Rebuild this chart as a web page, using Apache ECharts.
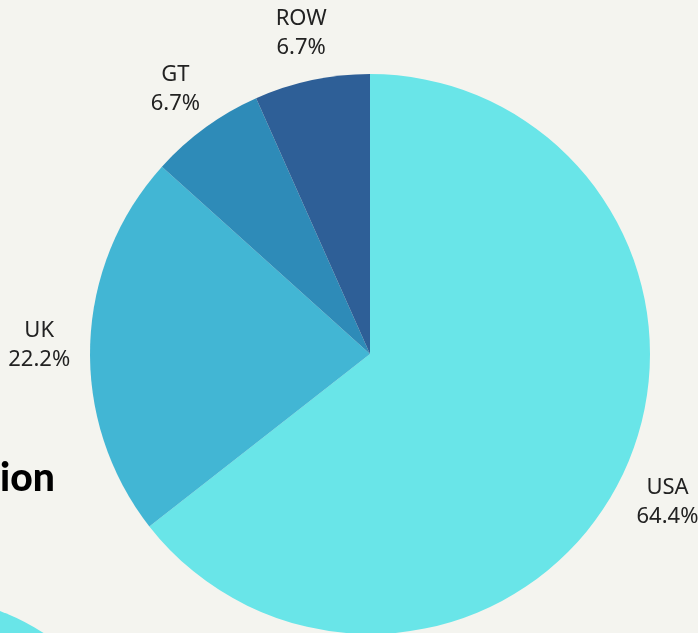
<!DOCTYPE html>
<html>
<head>
<meta charset="utf-8">
<script src="https://cdn.jsdelivr.net/npm/echarts@6/dist/echarts.min.js"></script>
<style>
  html, body { margin: 0; padding: 0; background: #f4f4ef; }
  #chart { width: 698px; height: 633px; }
</style>
</head>
<body>
<div id="chart"></div>
<script>
// market share by region
var regions = ['USA', 'UK', 'GT', 'ROW'];
var shares = [29, 10, 3, 3];
var colors = ['#69e5e8', '#42b6d4', '#2e8bb8', '#2e5f97'];

var pieData = regions.map(function (name, i) {
    return { name: name, value: shares[i], itemStyle: { color: colors[i] } };
});
var labelData = regions.map(function (name, i) {
    return { name: name, value: shares[i] };
});

var chart = echarts.init(document.getElementById('chart'));
chart.setOption({
    backgroundColor: '#f4f4ef',
    animation: false,
    graphic: [
        {
            type: 'circle',
            shape: { cx: -86, cy: 835, r: 240 },
            style: { fill: '#69e5e8' },
            silent: true
        },
        {
            type: 'text',
            x: 0,
            y: 478,
            style: {
                text: 'ion',
                fill: '#000',
                font: '900 39px Lato, "Open Sans", sans-serif',
                textAlign: 'left',
                textVerticalAlign: 'middle'
            },
            silent: true
        }
    ],
    series: [
        {
            type: 'pie',
            center: [370, 354],
            radius: 280,
            startAngle: 90,
            data: pieData,
            label: { show: false },
            labelLine: { show: false },
            itemStyle: { borderWidth: 0 },
            silent: true
        },
        {
            // invisible ring used only to place the labels
            type: 'pie',
            center: [370, 357],
            radius: [318, 338],
            startAngle: 90,
            data: labelData,
            itemStyle: { color: 'rgba(0,0,0,0)', borderWidth: 0 },
            label: {
                show: true,
                position: 'inside',
                color: '#222',
                fontFamily: '"Noto Sans", sans-serif',
                fontSize: 22,
                lineHeight: 29,
                align: 'center',
                formatter: function (p) {
                    return p.name + '\n' + p.percent.toFixed(1) + '%';
                }
            },
            labelLine: { show: false },
            silent: true
        }
    ]
});
</script>
</body>
</html>
